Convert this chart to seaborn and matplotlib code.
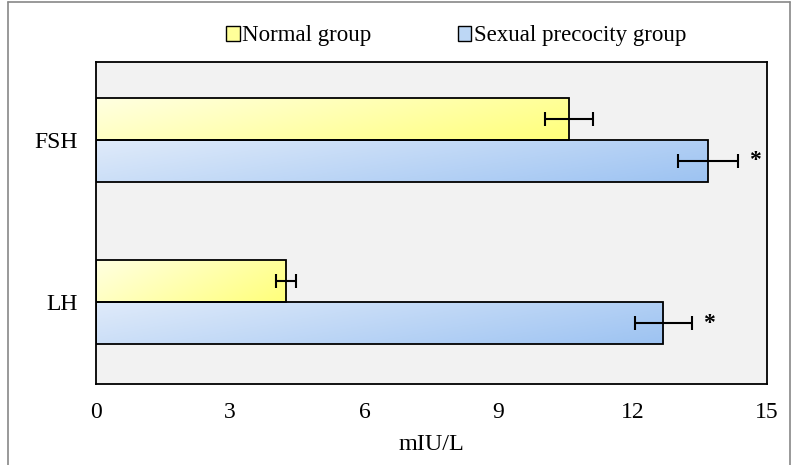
import numpy as np
import pandas as pd
import matplotlib
matplotlib.use("Agg")
import matplotlib.pyplot as plt
import seaborn as sns
from matplotlib.colors import LinearSegmentedColormap
from matplotlib.patches import Patch
from matplotlib.lines import Line2D

categories = ["FSH", "LH"]
groups = ["Normal group", "Sexual precocity group"]
normal_vals = [10.57, 4.25]
normal_err = [0.54, 0.22]
precocity_vals = [13.68, 12.68]
precocity_err = [0.67, 0.64]
xticks = [0, 3, 6, 9, 12, 15]

df = pd.DataFrame({
    "hormone": categories * 2,
    "group": [groups[0]] * 2 + [groups[1]] * 2,
    "value": normal_vals + precocity_vals,
    "err": normal_err + precocity_err,
})

sns.set_theme(style="white")
plt.rcParams["font.family"] = ["Liberation Serif", "DejaVu Serif"]
plt.rcParams["text.color"] = "black"
plt.rcParams["axes.labelcolor"] = "black"
plt.rcParams["xtick.color"] = "black"
plt.rcParams["ytick.color"] = "black"

fig = plt.figure(figsize=(7.96, 4.65), dpi=100)
ax = fig.add_axes([0.1206, 0.1742, 0.8430, 0.6925])
ax.set_facecolor("#F2F2F2")

palette = {groups[0]: "#FFFF99", groups[1]: "#BDD7F5"}
sns.barplot(data=df, y="hormone", x="value", hue="group", orient="h",
            palette=palette, width=0.52, edgecolor="black", linewidth=1.3,
            errorbar=None, ax=ax, legend=False, saturation=1)

grad = {
    groups[0]: LinearSegmentedColormap.from_list("y", ["#FFFFE2", "#FFFF7A"]),
    groups[1]: LinearSegmentedColormap.from_list("b", ["#E0EBFA", "#9DC3F2"]),
}
gy, gx = np.mgrid[0:1:50j, 0:1:200j]
gimg = (gx * 0.7 + gy * 0.3)

for container, g in zip(ax.containers, groups):
    errs = df[df.group == g]["err"].values
    for bar, e in zip(container, errs):
        x0, y0 = bar.get_x(), bar.get_y()
        w, h = bar.get_width(), bar.get_height()
        im = ax.imshow(gimg, cmap=grad[g], aspect="auto",
                       extent=[x0, x0 + w, y0 + h, y0], zorder=1.5,
                       interpolation="bilinear")
        im.set_clip_path(bar)
        bar.set_facecolor("none")
        bar.set_zorder(2)
        yc = y0 + h / 2
        ax.errorbar(x0 + w, yc, xerr=e, fmt="none", ecolor="black",
                    elinewidth=1.5, capsize=5, capthick=1.5, zorder=3)
        if g == groups[1]:
            ax.text(x0 + w + e + 0.25, yc, "*", ha="left", va="center",
                    fontsize=17, fontweight="bold", color="black")

ax.set_xlim(0, 15)
ax.set_ylim(1.506, -0.48)
ax.set_xticks(xticks)
ax.set_xticklabels([str(t) for t in xticks], fontsize=17)
ax.tick_params(axis="y", labelsize=17, length=0, pad=13, labelcolor="black")
ax.tick_params(axis="x", length=0, pad=13, labelcolor="black")
ax.set_ylabel("")
ax.set_xlabel("mIU/L", fontsize=17.5, labelpad=8, color="black")
for s in ax.spines.values():
    s.set_visible(True)
    s.set_color("black")
    s.set_linewidth(1.3)

handles = [Patch(facecolor="#FFFF99", edgecolor="black", linewidth=1.0),
           Patch(facecolor="#BDD7F5", edgecolor="black", linewidth=1.0)]
leg = fig.legend(handles, groups, loc="center", bbox_to_anchor=(0.573, 0.923),
                 ncol=2, frameon=False, fontsize=16.5, handlelength=0.6,
                 handleheight=0.6, handletextpad=0.1, columnspacing=3.75)
for t in leg.get_texts():
    t.set_color("black")

# outer frame
fc = "#888888"
fig.add_artist(Line2D([0.010, 0.010], [0, 0.996], color=fc, lw=1.2, transform=fig.transFigure))
fig.add_artist(Line2D([0.010, 0.992], [0.996, 0.996], color=fc, lw=1.2, transform=fig.transFigure))
fig.add_artist(Line2D([0.992, 0.992], [0, 0.996], color=fc, lw=1.2, transform=fig.transFigure))

fig.savefig("out.png", dpi=100)
